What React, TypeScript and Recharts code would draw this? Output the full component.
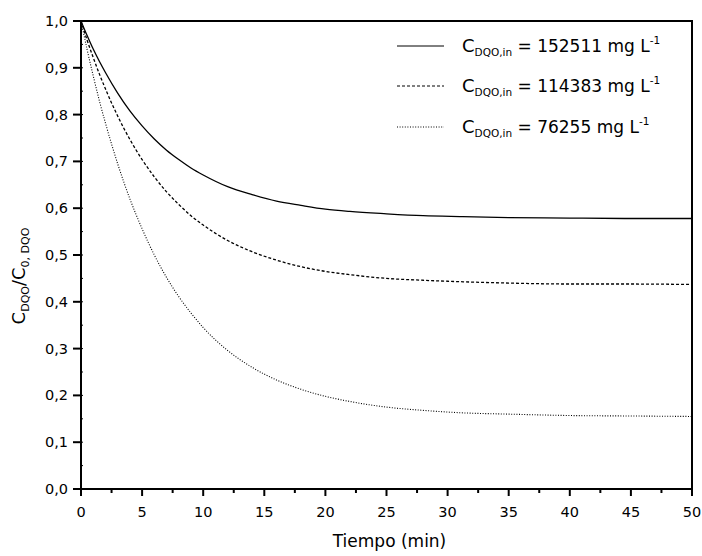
import React from 'react';
import { LineChart, Line, XAxis, YAxis, Legend } from 'recharts';

// valores
const tiempo = [0, 0.5, 1, 1.5, 2, 3, 4, 5, 6, 7, 8, 9, 10, 12, 14, 16, 18, 20, 22, 25, 28, 31, 35, 40, 45, 50];
const c152511 = [1.0, 0.969, 0.94, 0.914, 0.89, 0.846, 0.808, 0.776, 0.748, 0.724, 0.704, 0.686, 0.671, 0.646, 0.629, 0.615, 0.606, 0.598, 0.593, 0.588, 0.584, 0.582, 0.58, 0.579, 0.578, 0.578];
const c114383 = [1.0, 0.959, 0.922, 0.887, 0.855, 0.797, 0.747, 0.704, 0.667, 0.635, 0.608, 0.584, 0.564, 0.531, 0.507, 0.489, 0.475, 0.465, 0.458, 0.45, 0.446, 0.443, 0.44, 0.438, 0.438, 0.437];
const c76255 = [1.0, 0.939, 0.883, 0.83, 0.782, 0.695, 0.62, 0.556, 0.5, 0.452, 0.411, 0.376, 0.345, 0.296, 0.26, 0.233, 0.213, 0.198, 0.187, 0.175, 0.168, 0.163, 0.16, 0.157, 0.156, 0.155];

const concentraciones = ['152511', '114383', '76255'];
const xTicks = [0, 2.5, 5, 7.5, 10, 12.5, 15, 17.5, 20, 22.5, 25, 27.5, 30, 32.5, 35, 37.5, 40, 42.5, 45, 47.5, 50];
const yTicks = [0, 0.05, 0.1, 0.15, 0.2, 0.25, 0.3, 0.35, 0.4, 0.45, 0.5, 0.55, 0.6, 0.65, 0.7, 0.75, 0.8, 0.85, 0.9, 0.95, 1];

const data = tiempo.map((t, i) => ({ t, a: c152511[i], b: c114383[i], c: c76255[i] }));

const FONT = '"DejaVu Sans", sans-serif';
const dashes = ['', '3 2', '1 1.6'];

const XTick = (props: any) => {
  const { x, y, payload } = props;
  const v = payload.value;
  const major = v % 5 === 0;
  return (
    <g>
      <line x1={x} y1={y} x2={x} y2={y + (major ? 7 : 4)} stroke="#000" strokeWidth={2} />
      {major && (
        <text x={x} y={y + 28} textAnchor="middle" fontSize={14.5} fontFamily={FONT} fill="#000">
          {v}
        </text>
      )}
    </g>
  );
};

const YTickLeft = (props: any) => {
  const { x, y, payload } = props;
  const v = payload.value;
  const major = Math.round(v * 100) % 10 === 0;
  return (
    <g>
      <line x1={x} y1={y} x2={x + 2} y2={y} stroke="#000" strokeWidth={1} />
      {major && <line x1={x - 8} y1={y} x2={x} y2={y} stroke="#000" strokeWidth={2} />}
      {major && (
        <text x={x - 13} y={y + 5} textAnchor="end" fontSize={14.5} fontFamily={FONT} fill="#000">
          {v.toFixed(1).replace('.', ',')}
        </text>
      )}
    </g>
  );
};

const YTickRight = (props: any) => {
  const { x, y } = props;
  return <line x1={x - 3} y1={y} x2={x} y2={y} stroke="#000" strokeWidth={1.5} />;
};

const YLabel = () => (
  <text transform="translate(25, 276) rotate(-90)" textAnchor="middle" fontFamily={FONT} fill="#000" fontSize={18}>
    <tspan>C</tspan>
    <tspan fontSize={11} dy={4}>DQO</tspan>
    <tspan dy={-4}>/C</tspan>
    <tspan fontSize={11} dy={4}>0, DQO</tspan>
  </text>
);

const XLabel = (props: any) => {
  const { x, y, width } = props.viewBox;
  return (
    <text x={x + width / 2 + 3} y={y + 58} textAnchor="middle" fontFamily={FONT} fontSize={17} fill="#000">
      Tiempo (min)
    </text>
  );
};

const Leyenda = () => (
  <svg width={300} height={120} style={{ display: 'block', overflow: 'visible' }}>
    {concentraciones.map((c, i) => {
      const base = [27, 67, 108][i];
      return (
        <g key={c}>
          <line x1={12} y1={base - 6} x2={59} y2={base - 6} stroke="#000" strokeWidth={1} strokeDasharray={dashes[i] || undefined} />
          <text x={77} y={base} fontFamily={FONT} fontSize={17} fill="#000" style={{ whiteSpace: 'pre' }}>
            <tspan fontSize={18}>C</tspan>
            <tspan fontSize={10.5} dy={4}>DQO,in</tspan>
            <tspan dy={-4}>{` = ${c} mg L`}</tspan>
            <tspan fontSize={10.5} dy={-8}>-1</tspan>
          </text>
        </g>
      );
    })}
  </svg>
);

export default function App() {
  return (
    <div style={{ position: 'absolute', left: 0, top: 0, width: 702, height: 556, background: '#fff' }}>
      <LineChart width={702} height={556} data={data} margin={{ top: 20, right: 0, bottom: 0, left: 0 }}>
        <XAxis
          dataKey="t"
          type="number"
          domain={[0, 50]}
          ticks={xTicks}
          interval={0}
          height={67}
          tickLine={false}
          tickSize={0}
          tickMargin={0}
          axisLine={{ stroke: '#000', strokeWidth: 2, strokeLinecap: 'square' }}
          tick={<XTick />}
          label={<XLabel />}
        />
        <XAxis
          xAxisId="top"
          orientation="top"
          type="number"
          domain={[0, 50]}
          height={1}
          tick={false}
          tickLine={false}
          axisLine={{ stroke: '#000', strokeWidth: 2, strokeLinecap: 'square' }}
        />
        <YAxis
          type="number"
          domain={[0, 1]}
          ticks={yTicks}
          interval={0}
          width={81}
          tickLine={false}
          tickSize={0}
          tickMargin={0}
          axisLine={{ stroke: '#000', strokeWidth: 2, strokeLinecap: 'square' }}
          tick={<YTickLeft />}
          label={<YLabel />}
        />
        <YAxis
          yAxisId="right"
          orientation="right"
          type="number"
          domain={[0, 1]}
          ticks={yTicks}
          interval={0}
          width={10}
          tickLine={false}
          tickSize={0}
          tickMargin={0}
          axisLine={{ stroke: '#000', strokeWidth: 2, strokeLinecap: 'square' }}
          tick={<YTickRight />}
        />
        <Legend
          layout="horizontal"
          verticalAlign="middle"
          align="center"
          wrapperStyle={{ left: 385, top: 25, width: 300, height: 120 }}
          content={<Leyenda />}
        />
        <Line type="monotone" dataKey="a" name={concentraciones[0]} stroke="#000" strokeWidth={1.3} dot={false} isAnimationActive={false} />
        <Line type="monotone" dataKey="b" name={concentraciones[1]} stroke="#000" strokeWidth={1.3} strokeDasharray={dashes[1]} dot={false} isAnimationActive={false} />
        <Line type="monotone" dataKey="c" name={concentraciones[2]} stroke="#000" strokeWidth={1.1} strokeDasharray={dashes[2]} dot={false} isAnimationActive={false} />
      </LineChart>
    </div>
  );
}
